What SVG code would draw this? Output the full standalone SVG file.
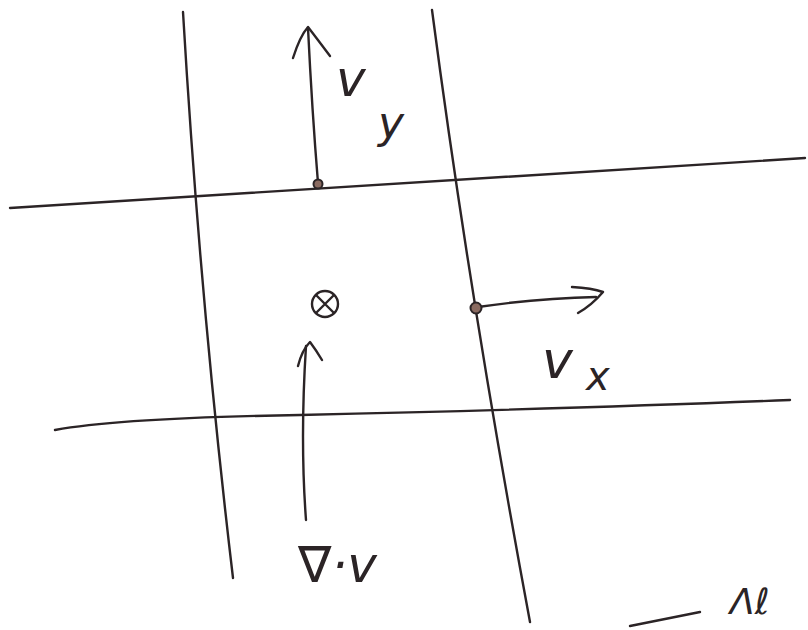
<svg xmlns="http://www.w3.org/2000/svg" width="808" height="630" viewBox="0 0 808 630">
<style>
.ln{fill:none;stroke:#2b2426;stroke-width:2.4;stroke-linecap:round;stroke-linejoin:round}
.dot{fill:#8a6a60;stroke:#2b2426;stroke-width:2}
.lbl{font-family:"DejaVu Sans",sans-serif;font-style:italic;fill:#2b2426;font-weight:300}
</style>
<rect width="808" height="630" fill="#ffffff"/>
<g id="grid">
  <path class="ln" d="M183,12 Q200,300 233,578"/>
  <path class="ln" d="M432,10 Q470,300 530,622"/>
  <path class="ln" d="M10,208 L805,158"/>
  <path class="ln" d="M55,430 Q120,418 300,415 Q600,408 790,400"/>
</g>
<g id="connectors">
  <g id="arrow-vy">
    <path class="ln" d="M318,183 Q312,110 308,28"/>
    <path class="ln" d="M293,58 Q300,36 308,27 Q318,40 330,56"/>
  </g>
  <g id="arrow-vx">
    <path class="ln" d="M478,307 Q540,298 596,297"/>
    <path class="ln" d="M572,287 Q592,288 603,292 Q592,305 578,313"/>
  </g>
  <g id="arrow-div">
    <path class="ln" d="M306,520 Q300,440 306,346"/>
    <path class="ln" d="M298,366 Q302,350 310,342 Q316,350 322,360"/>
  </g>
</g>
<g id="node-vy-point"><circle class="dot" cx="318" cy="184" r="4.5"/></g>
<g id="node-vx-point"><circle class="dot" cx="476" cy="308" r="5.5"/></g>
<g id="node-center">
  <circle class="ln" cx="325" cy="304" r="13"/>
  <path class="ln" d="M316,295 L334,313 M334,295 L316,313"/>
</g>
<g id="label-vy"><text class="lbl" x="336" y="96" font-size="50">v</text><text class="lbl" x="378" y="138" font-size="44">y</text></g>
<g id="label-vx"><text class="lbl" x="542" y="378" font-size="52">v</text><text class="lbl" x="586" y="390" font-size="40">x</text></g>
<g id="label-div"><text class="lbl" x="298" y="582" font-size="50">∇·v</text></g>
<g id="fragment">
  <path class="ln" d="M630,626 L700,612"/>
  <text class="lbl" x="730" y="614" font-size="36">Λℓ</text>
</g>
</svg>
